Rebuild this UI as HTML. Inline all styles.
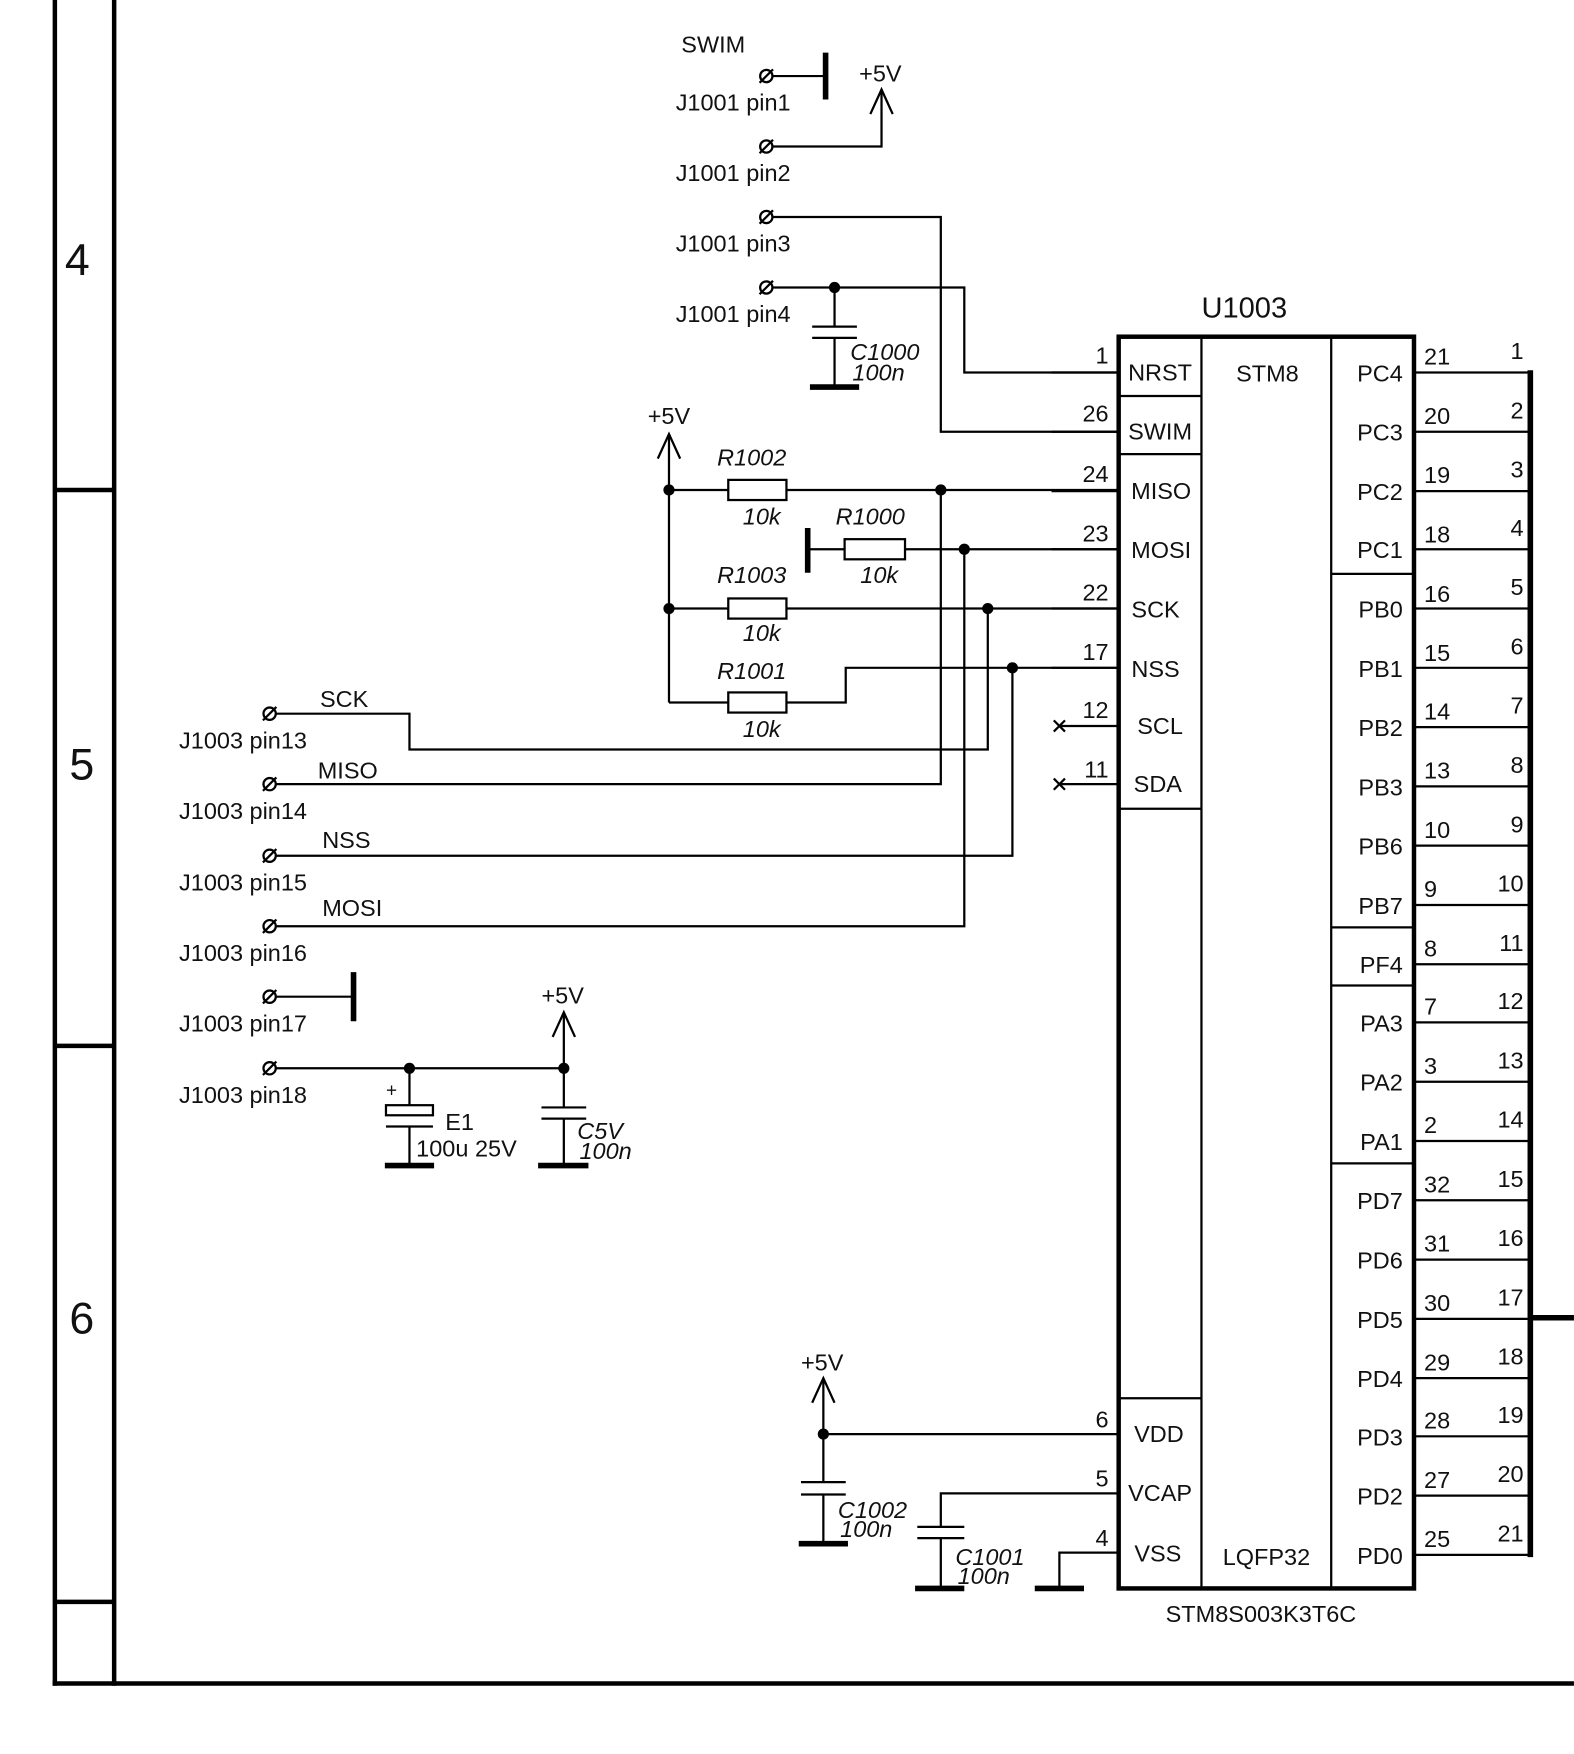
<!DOCTYPE html>
<html><head><meta charset="utf-8"><style>
html,body{margin:0;padding:0;background:#fff}
svg{display:block}
text{font-family:"Liberation Sans",sans-serif;font-size:21px;fill:#111}
.i{font-style:italic}
</style></head><body>
<svg width="1574" height="1754" viewBox="0 0 1407 1568" xmlns="http://www.w3.org/2000/svg">
<defs>
<g id="cs"><circle r="5.5" fill="none" stroke="#000" stroke-width="2"/><line x1="-6" y1="6" x2="6" y2="-6" stroke="#000" stroke-width="2"/></g>
<g id="arr"><path d="M-10,22 L0,0 L10,22" fill="none" stroke="#000" stroke-width="2"/></g>
</defs>
<g stroke="#000" fill="none" stroke-width="2">
<line x1="49" y1="0" x2="49" y2="1507" stroke-width="4"/>
<line x1="102" y1="0" x2="102" y2="1507" stroke-width="4"/>
<line x1="47" y1="1505" x2="1407" y2="1505" stroke-width="4"/>
<line x1="49" y1="438" x2="102" y2="438" stroke-width="4"/>
<line x1="49" y1="935" x2="102" y2="935" stroke-width="4"/>
<line x1="49" y1="1432" x2="102" y2="1432" stroke-width="4"/>
<rect x="1000" y="301" width="264" height="1119" stroke-width="4"/>
<line x1="1074" y1="301" x2="1074" y2="1420"/>
<line x1="1190" y1="301" x2="1190" y2="1420"/>
<line x1="1000" y1="354" x2="1074" y2="354"/>
<line x1="1000" y1="406" x2="1074" y2="406"/>
<line x1="1000" y1="723" x2="1074" y2="723"/>
<line x1="1000" y1="1250" x2="1074" y2="1250"/>
<line x1="1190" y1="513" x2="1264" y2="513"/>
<line x1="1190" y1="829" x2="1264" y2="829"/>
<line x1="1190" y1="881" x2="1264" y2="881"/>
<line x1="1190" y1="1040" x2="1264" y2="1040"/>
<path d="M1264,333H1366M1264,386H1366M1264,439H1366M1264,491H1366M1264,544H1366M1264,597H1366M1264,650H1366M1264,703H1366M1264,756H1366M1264,809H1366M1264,862H1366M1264,914H1366M1264,967H1366M1264,1020H1366M1264,1073H1366M1264,1126H1366M1264,1179H1366M1264,1232H1366M1264,1284H1366M1264,1337H1366M1264,1390H1366"/>
<line x1="1368" y1="331" x2="1368" y2="1392" stroke-width="5"/>
<line x1="1368" y1="1178" x2="1407" y2="1178" stroke-width="5"/>
<line x1="691" y1="68" x2="738" y2="68"/>
<line x1="738" y1="47" x2="738" y2="89" stroke-width="5"/>
<path d="M691,131H788V80"/>
<path d="M691,194H841V386H1000"/>
<path d="M691,257H862V333H1000"/>
<path d="M746,257V292M726,292H766M726,302H766M746,302V346"/>
<line x1="724" y1="346" x2="768" y2="346" stroke-width="5"/>
<path d="M598,390V628"/>
<path d="M598,438H651M703,438H1000"/>
<rect x="651" y="429" width="52" height="18"/>
<line x1="722" y1="472" x2="722" y2="512" stroke-width="5"/>
<path d="M722,491H755M809,491H1000"/>
<rect x="755" y="482" width="54" height="18"/>
<path d="M598,544H651M703,544H1000"/>
<rect x="651" y="535" width="52" height="18"/>
<path d="M598,628H651M703,628H756V597H1000"/>
<rect x="651" y="619" width="52" height="18"/>
<path d="M947,649H1000M947,701H1000"/>
<path d="M942,644L952,654M952,644L942,654M942,696L952,706M952,696L942,706"/>
<path d="M247,638H366V670H883V544"/>
<path d="M247,701H841V438"/>
<path d="M247,765H905V597"/>
<path d="M247,828H862V491"/>
<line x1="247" y1="891" x2="316" y2="891"/>
<line x1="316" y1="869" x2="316" y2="913" stroke-width="5"/>
<path d="M247,955H504V907"/>
<path d="M366,955V988M366,1007V1042"/>
<rect x="345" y="988" width="42" height="9"/>
<line x1="345" y1="1007" x2="387" y2="1007"/>
<line x1="344" y1="1042" x2="388" y2="1042" stroke-width="5"/>
<path d="M504,955V990M484,990H524M484,1000H524M504,1000V1042"/>
<line x1="481" y1="1042" x2="526" y2="1042" stroke-width="5"/>
<path d="M736,1234V1325M716,1325H756M716,1336H756M736,1336V1380"/>
<path d="M736,1282H1000"/>
<line x1="714" y1="1380" x2="758" y2="1380" stroke-width="5"/>
<path d="M1000,1335H841V1365M820,1365H862M820,1375H862M841,1375V1420"/>
<line x1="818" y1="1420" x2="862" y2="1420" stroke-width="5"/>
<path d="M1000,1388H947V1420"/>
<line x1="925" y1="1420" x2="969" y2="1420" stroke-width="5"/>
<path d="M940,333H1000M940,386H1000M940,439H1000M940,491H1000M940,544H1000M940,597H1000"/>
</g>
<g fill="#000">
<circle cx="746" cy="257" r="5"/><circle cx="598" cy="438" r="5"/><circle cx="598" cy="544" r="5"/>
<circle cx="841" cy="438" r="5"/><circle cx="862" cy="491" r="5"/><circle cx="883" cy="544" r="5"/><circle cx="905" cy="597" r="5"/>
<circle cx="366" cy="955" r="5"/><circle cx="504" cy="955" r="5"/><circle cx="736" cy="1282" r="5"/>
</g>
<use href="#arr" x="788" y="80"/><use href="#arr" x="598" y="388"/><use href="#arr" x="504" y="905"/><use href="#arr" x="736" y="1232"/>
<use href="#cs" x="685" y="68"/><use href="#cs" x="685" y="131"/><use href="#cs" x="685" y="194"/><use href="#cs" x="685" y="257"/>
<use href="#cs" x="241" y="638"/><use href="#cs" x="241" y="701"/><use href="#cs" x="241" y="765"/><use href="#cs" x="241" y="828"/><use href="#cs" x="241" y="891"/><use href="#cs" x="241" y="955"/>
<text x="58" y="246" style="font-size:40px">4</text>
<text x="62" y="697" style="font-size:40px">5</text>
<text x="62" y="1192" style="font-size:40px">6</text>
<text x="609" y="47">SWIM</text>
<text x="768" y="73">+5V</text>
<text x="604" y="99">J1001 pin1</text>
<text x="604" y="162">J1001 pin2</text>
<text x="604" y="225">J1001 pin3</text>
<text x="604" y="288">J1001 pin4</text>
<text x="760" y="322" class="i">C1000</text><text x="762" y="340" class="i">100n</text>
<text x="579" y="379">+5V</text>
<text x="641" y="416" class="i">R1002</text><text x="664" y="469" class="i">10k</text>
<text x="747" y="469" class="i">R1000</text><text x="769" y="521" class="i">10k</text>
<text x="641" y="521" class="i">R1003</text><text x="664" y="573" class="i">10k</text>
<text x="641" y="607" class="i">R1001</text><text x="664" y="659" class="i">10k</text>
<text x="286" y="632">SCK</text><text x="284" y="696">MISO</text><text x="288" y="758">NSS</text><text x="288" y="819">MOSI</text>
<text x="160" y="669">J1003 pin13</text><text x="160" y="732">J1003 pin14</text><text x="160" y="796">J1003 pin15</text>
<text x="160" y="859">J1003 pin16</text><text x="160" y="922">J1003 pin17</text><text x="160" y="986">J1003 pin18</text>
<text x="345" y="980" style="font-size:17px">+</text>
<text x="398" y="1010">E1</text><text x="372" y="1034">100u 25V</text>
<text x="484" y="897">+5V</text>
<text x="516" y="1018" class="i">C5V</text><text x="518" y="1036" class="i">100n</text>
<text x="716" y="1225">+5V</text>
<text x="749" y="1357" class="i">C1002</text><text x="751" y="1374" class="i">100n</text>
<text x="854" y="1399" class="i">C1001</text><text x="856" y="1416" class="i">100n</text>
<text x="1074" y="284" style="font-size:26px">U1003</text>
<text x="1105" y="341">STM8</text>
<text x="1093" y="1399">LQFP32</text>
<text x="1042" y="1450">STM8S003K3T6C</text>
<g text-anchor="middle">
<text x="1037" y="340">NRST</text><text x="1037" y="393">SWIM</text><text x="1038" y="446">MISO</text><text x="1038" y="499">MOSI</text>
<text x="1033" y="552">SCK</text><text x="1033" y="605">NSS</text><text x="1037" y="656">SCL</text><text x="1035" y="708">SDA</text>
<text x="1036" y="1289">VDD</text><text x="1037" y="1342">VCAP</text><text x="1035" y="1396">VSS</text>
</g>
<g text-anchor="end">
<text x="991" y="325">1</text><text x="991" y="377">26</text><text x="991" y="431">24</text><text x="991" y="484">23</text>
<text x="991" y="537">22</text><text x="991" y="590">17</text><text x="991" y="642">12</text><text x="991" y="695">11</text>
<text x="991" y="1276">6</text><text x="991" y="1329">5</text><text x="991" y="1382">4</text>
<text x="1254" y="341">PC4</text><text x="1254" y="394">PC3</text><text x="1254" y="447">PC2</text><text x="1254" y="499">PC1</text>
<text x="1254" y="552">PB0</text><text x="1254" y="605">PB1</text><text x="1254" y="658">PB2</text><text x="1254" y="711">PB3</text>
<text x="1254" y="764">PB6</text><text x="1254" y="817">PB7</text><text x="1254" y="870">PF4</text><text x="1254" y="922">PA3</text>
<text x="1254" y="975">PA2</text><text x="1254" y="1028">PA1</text><text x="1254" y="1081">PD7</text><text x="1254" y="1134">PD6</text>
<text x="1254" y="1187">PD5</text><text x="1254" y="1240">PD4</text><text x="1254" y="1292">PD3</text><text x="1254" y="1345">PD2</text>
<text x="1254" y="1398">PD0</text>
<text x="1362" y="321">1</text><text x="1362" y="374">2</text><text x="1362" y="427">3</text><text x="1362" y="479">4</text>
<text x="1362" y="532">5</text><text x="1362" y="585">6</text><text x="1362" y="638">7</text><text x="1362" y="691">8</text>
<text x="1362" y="744">9</text><text x="1362" y="797">10</text><text x="1362" y="850">11</text><text x="1362" y="902">12</text>
<text x="1362" y="955">13</text><text x="1362" y="1008">14</text><text x="1362" y="1061">15</text><text x="1362" y="1114">16</text>
<text x="1362" y="1167">17</text><text x="1362" y="1220">18</text><text x="1362" y="1272">19</text><text x="1362" y="1325">20</text>
<text x="1362" y="1378">21</text>
</g>
<g>
<text x="1273" y="326">21</text><text x="1273" y="379">20</text><text x="1273" y="432">19</text><text x="1273" y="485">18</text>
<text x="1273" y="538">16</text><text x="1273" y="591">15</text><text x="1273" y="643">14</text><text x="1273" y="696">13</text>
<text x="1273" y="749">10</text><text x="1273" y="802">9</text><text x="1273" y="855">8</text><text x="1273" y="907">7</text>
<text x="1273" y="960">3</text><text x="1273" y="1013">2</text><text x="1273" y="1066">32</text><text x="1273" y="1119">31</text>
<text x="1273" y="1172">30</text><text x="1273" y="1225">29</text><text x="1273" y="1277">28</text><text x="1273" y="1330">27</text>
<text x="1273" y="1383">25</text>
</g>
</svg>
</body></html>
